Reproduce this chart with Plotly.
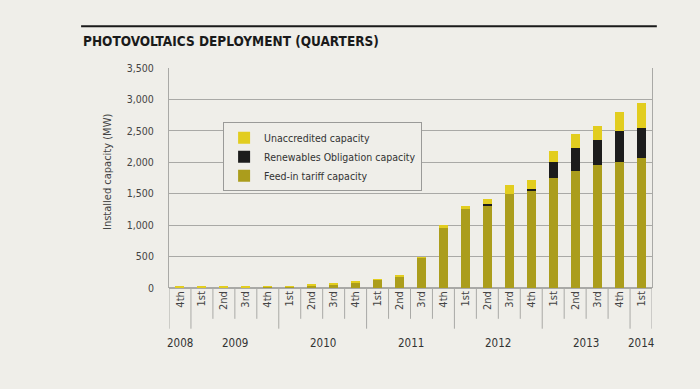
import plotly.graph_objects as go

years = ["2008", "2009", "2009", "2009", "2009", "2010", "2010", "2010", "2010",
         "2011", "2011", "2011", "2011", "2012", "2012", "2012", "2012",
         "2013", "2013", "2013", "2013", "2014"]
quarters = ["4th", "1st", "2nd", "3rd", "4th", "1st", "2nd", "3rd", "4th",
            "1st", "2nd", "3rd", "4th", "1st", "2nd", "3rd", "4th",
            "1st", "2nd", "3rd", "4th", "1st"]
fit = [2, 3, 4, 6, 18, 20, 35, 55, 80, 130, 190, 480, 950, 1260, 1310, 1500,
       1550, 1745, 1860, 1950, 2010, 2070]
ro = [0, 0, 0, 0, 0, 0, 0, 0, 0, 0, 0, 0, 0, 0, 30, 0, 30, 265, 365, 400, 485, 470]
unacc = [20, 20, 18, 20, 6, 5, 15, 15, 20, 8, 7, 10, 50, 50, 80, 135, 140,
         165, 220, 230, 300, 405]
y_ticks = [0, 500, 1000, 1500, 2000, 2500, 3000, 3500]

BG = "#efeee9"
OLIVE = "#ab9d1c"
YELLOW = "#e2cd1f"
BLACK = "#1c1c1c"
GRID = "#a9a9a6"
FONT = "DejaVu Sans Condensed, Liberation Sans Narrow, Roboto, sans-serif"

x = list(range(len(quarters)))

fig = go.Figure()
fig.add_trace(go.Bar(x=x, y=fit, name="Feed-in tariff capacity", marker_color=OLIVE,
                     marker_line_width=0))
fig.add_trace(go.Bar(x=x, y=ro, name="Renewables Obligation capacity", marker_color=BLACK,
                     marker_line_width=0))
fig.add_trace(go.Bar(x=x, y=unacc, name="Unaccredited capacity", marker_color=YELLOW,
                     marker_line_width=0))

shapes = []
# separators between quarters (short) and years (long)
for i in range(len(quarters) + 1):
    boundary = i == 0 or i == len(quarters) or years[i] != years[i - 1]
    shapes.append(dict(type="line", xref="x", yref="paper", x0=i - 0.5, x1=i - 0.5,
                       y0=0, y1=-0.185 if boundary else -0.14,
                       line=dict(color=GRID, width=1)))
# title rule
shapes.append(dict(type="line", xref="paper", yref="paper", x0=-0.182, x1=1.01,
                   y0=1.19, y1=1.19, line=dict(color="#1a1a1a", width=2)))

annotations = []
# year labels centred under their groups
groups = {}
for i, yr in enumerate(years):
    groups.setdefault(yr, []).append(i)
for yr, idx in groups.items():
    annotations.append(dict(x=(idx[0] + idx[-1]) / 2, y=-0.25, xref="x", yref="paper",
                            text=yr, showarrow=False, yanchor="middle",
                            font=dict(family=FONT, size=11.5, color="#333333")))
annotations.append(dict(x=-0.182, y=1.124, xref="paper", yref="paper", xanchor="left",
                        yanchor="middle", showarrow=False,
                        text="<b>PHOTOVOLTAICS DEPLOYMENT (QUARTERS)</b>",
                        font=dict(family=FONT, size=13.5, color="#1a1a1a")))
annotations.append(dict(x=-0.126, y=0.528, xref="paper", yref="paper", textangle=-90,
                        showarrow=False, text="Installed capacity (MW)",
                        xanchor="center", yanchor="middle",
                        font=dict(family=FONT, size=11, color="#444444")))

fig.update_layout(
    width=700, height=389,
    margin=dict(l=169, r=48, t=68, b=101),
    paper_bgcolor=BG, plot_bgcolor=BG,
    barmode="stack", bargap=0.59,
    font=dict(family=FONT, size=11, color="#444444"),
    showlegend=True,
    legend=dict(x=0.112, y=0.753, xanchor="left", yanchor="top", traceorder="reversed",
                bgcolor=BG, bordercolor="#9a9a98", borderwidth=1,
                font=dict(family=FONT, size=10.5, color="#333333"),
                itemsizing="constant", tracegroupgap=0, itemwidth=30),
    shapes=shapes, annotations=annotations,
)
fig.update_xaxes(range=[-0.5, len(quarters) - 0.5], tickmode="array", tickvals=x,
                 ticktext=quarters, tickangle=-90, showgrid=False, ticks="",
                 zeroline=False, showline=False,
                 tickfont=dict(family=FONT, size=11, color="#444444"))
fig.update_yaxes(range=[0, 3500], tickmode="array", tickvals=y_ticks,
                 ticktext=[f"{v:,}" for v in y_ticks], showgrid=True, gridcolor=GRID,
                 gridwidth=1, zeroline=True, zerolinecolor=GRID, showline=True,
                 linecolor=GRID, mirror=True, ticks="", ticklabelstandoff=12,
                 tickfont=dict(family=FONT, size=10.5, color="#444444"))

fig.write_html(
    "out.html",
    config={"displayModeBar": False},
    post_script=("document.body.style.margin='0';"
                 "document.body.style.background='" + BG + "';"
                 "document.body.style.overflow='hidden';"),
)
